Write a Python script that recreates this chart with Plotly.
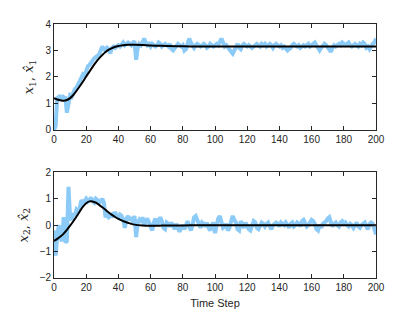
import plotly.graph_objects as go

steps = list(range(201))

x1_meas = [
    0.0, 0.15, 1.2, 1.25, 1.15, 1.3, 1.2, 1.25, 0.65, 1.1,
    1.3, 1.25, 1.45, 1.55, 1.6, 1.75, 1.85, 2.05, 2.1, 2.05,
    2.3, 2.4, 2.45, 2.55, 2.6, 2.7, 2.75, 2.8, 2.85, 3.0,
    3.15, 3.05, 3.0, 3.1, 3.05, 2.9, 3.1, 3.15, 3.1, 3.15,
    3.2, 3.15, 3.25, 3.3, 3.2, 3.25, 3.3, 3.25, 3.2, 3.3,
    3.35, 2.65, 3.1, 3.25, 3.2, 3.3, 3.45, 3.3, 3.2, 3.25,
    3.15, 3.25, 3.2, 3.15, 3.2, 3.3, 3.25, 3.15, 3.2, 3.25,
    3.2, 3.15, 3.25, 3.05, 3.0, 3.1, 3.2, 3.25, 3.2, 3.15,
    3.2, 3.0, 3.05, 3.3, 3.45, 3.3, 3.15, 3.1, 3.2, 3.25,
    3.2, 3.15, 3.2, 3.25, 3.2, 3.1, 3.15, 3.25, 3.2, 3.15,
    3.2, 3.25, 3.2, 3.3, 3.45, 3.3, 3.15, 3.2, 3.1, 3.0,
    2.95, 2.88, 3.0, 3.15, 3.25, 3.1, 3.05, 3.2, 3.25, 3.2,
    3.15, 3.2, 3.15, 3.1, 3.15, 3.2, 3.25, 3.2, 3.15, 3.25,
    3.2, 3.25, 3.15, 3.2, 3.25, 3.2, 3.1, 3.2, 3.25, 3.2,
    3.15, 3.2, 3.1, 3.15, 3.05, 3.0, 3.05, 3.1, 3.2, 3.25,
    3.2, 3.15, 3.2, 3.1, 3.15, 3.2, 3.15, 3.2, 3.25, 3.15,
    3.2, 3.25, 3.3, 3.2, 3.1, 3.0, 3.1, 3.2, 3.25, 3.2,
    3.1, 3.05, 2.95, 3.1, 3.2, 3.15, 3.2, 3.25, 3.2, 3.3,
    3.25, 3.2, 3.25, 3.3, 3.2, 3.15, 3.2, 3.25, 3.2, 3.15,
    3.25, 3.2, 3.3, 3.25, 3.1, 3.15, 3.05, 3.2, 3.25, 3.3,
    3.45,
]

x2_meas = [
    -0.2, -1.15, -0.4, 0.0, -0.5, -0.6, 0.3, -0.65, -0.6, 1.45,
    0.3, 0.2, 0.45, 0.35, 0.6, 0.55, 0.65, 0.95, 0.85, 0.9,
    1.0, 0.9, 0.95, 1.05, 0.9, 0.85, 1.0, 0.95, 0.85, 0.9,
    1.0, 0.85, 0.3, 0.4, 0.3, 0.35, 0.4, 0.3, 0.5, 0.35,
    0.3, 0.4, 0.35, 0.2, -0.1, 0.25, 0.35, 0.2, 0.3, 0.1,
    0.35, -0.45, 0.1, 0.2, 0.1, 0.3, 0.0, 0.15, 0.25, 0.1,
    -0.1, -0.2, 0.1, 0.25, 0.0, 0.2, 0.3, 0.15, -0.1, -0.15,
    0.1, 0.05, -0.05, 0.1, -0.05, -0.15, 0.05, -0.1, -0.25, -0.1,
    0.0, -0.15, 0.05, 0.15, -0.05, -0.2, 0.0, 0.3, 0.35, 0.2,
    0.05, -0.1, 0.1, 0.05, -0.05, 0.1, -0.1, -0.2, 0.0, 0.1,
    -0.3, 0.0, 0.25, 0.35, 0.1, -0.1, -0.05, 0.05, -0.2, -0.1,
    0.15, 0.35, 0.2, 0.1, -0.15, -0.2, 0.15, 0.05, -0.1, 0.1,
    -0.05, -0.15, -0.2, 0.0, 0.15, 0.1, -0.1, -0.15, 0.0, 0.1,
    0.05, -0.05, 0.05, 0.1, -0.05, -0.15, 0.0, 0.05, 0.1, 0.05,
    -0.05, 0.1, 0.05, 0.0, 0.1, -0.05, -0.1, 0.05, 0.1, -0.05,
    0.0, 0.1, 0.05, -0.05, 0.15, 0.2, 0.1, -0.05, 0.0, 0.1,
    0.2, 0.15, 0.05, -0.15, -0.2, 0.0, -0.1, 0.05, 0.1, 0.15,
    0.25, 0.3, 0.1, -0.05, 0.05, 0.1, 0.0, -0.05, 0.1, 0.15,
    0.05, 0.1, 0.0, -0.05, 0.05, 0.0, -0.1, 0.05, 0.1, -0.05,
    -0.1, 0.0, 0.05, 0.1, -0.05, -0.15, 0.05, 0.1, 0.05, -0.1,
    -0.35,
]

est_steps = [0, 2, 4, 6, 8, 10, 12, 14, 16, 18, 20, 22, 24, 26, 28, 30, 32, 34,
             36, 38, 40, 42, 44, 46, 48, 50, 55, 60, 65, 70, 80, 90, 100, 120,
             140, 160, 180, 200]
x1_est = [1.2, 1.15, 1.12, 1.1, 1.13, 1.2, 1.32, 1.48, 1.65, 1.83, 2.02, 2.2,
          2.38, 2.55, 2.7, 2.83, 2.94, 3.03, 3.09, 3.14, 3.17, 3.19, 3.21, 3.22,
          3.22, 3.22, 3.21, 3.19, 3.18, 3.17, 3.16, 3.15, 3.15, 3.15, 3.15,
          3.15, 3.15, 3.15]
x2_est = [-0.6, -0.52, -0.43, -0.32, -0.18, -0.02, 0.15, 0.33, 0.52, 0.7, 0.83,
          0.9, 0.9, 0.85, 0.77, 0.68, 0.58, 0.48, 0.39, 0.31, 0.24, 0.18, 0.13,
          0.09, 0.05, 0.02, -0.01, -0.02, -0.02, -0.01, -0.01, 0, 0, 0, 0, 0,
          0, 0]

x_ticks = list(range(0, 201, 20))
y1_ticks = [0, 1, 2, 3, 4]
y2_ticks = [-2, -1, 0, 1, 2]

BLUE = "#8ccaf7"
AX = "#262626"

fig = go.Figure()
fig.add_trace(go.Scatter(x=steps, y=x1_meas, mode="lines",
                         line=dict(color=BLUE, width=4), xaxis="x", yaxis="y"))
fig.add_trace(go.Scatter(x=est_steps, y=x1_est, mode="lines",
                         line=dict(color="black", width=2, shape="spline"),
                         xaxis="x", yaxis="y"))
fig.add_trace(go.Scatter(x=steps, y=x2_meas, mode="lines",
                         line=dict(color=BLUE, width=4), xaxis="x2", yaxis="y2"))
fig.add_trace(go.Scatter(x=est_steps, y=x2_est, mode="lines",
                         line=dict(color="black", width=2, shape="spline"),
                         xaxis="x2", yaxis="y2"))

axis_common = dict(showline=True, linecolor=AX, linewidth=0.8, mirror="ticks",
                   ticks="inside", ticklen=4, tickcolor=AX, tickwidth=0.8,
                   showgrid=False, zeroline=False, automargin=False,
                   tickfont=dict(family="Liberation Sans, Arial", size=10, color=AX))

fig.update_layout(
    width=407, height=304,
    margin=dict(l=46, r=39, t=16, b=34),
    paper_bgcolor="white", plot_bgcolor="white",
    showlegend=False,
    xaxis=dict(domain=[0, 1], range=[0, 200], tickvals=x_ticks, anchor="y",
               **axis_common),
    yaxis=dict(domain=[0.583, 1.0], range=[0, 4], tickvals=y1_ticks, anchor="x",
               title=dict(text="<i>x</i><sub>1</sub>, <i>x̂</i><sub>1</sub>",
                          font=dict(family="DejaVu Serif", size=13, color=AX),
                          standoff=8),
               **axis_common),
    xaxis2=dict(domain=[0, 1], range=[0, 200], tickvals=x_ticks, anchor="y2",
                title=dict(text="Time Step",
                           font=dict(family="Liberation Sans, Arial", size=11, color=AX),
                           standoff=7),
                **axis_common),
    yaxis2=dict(domain=[0.0, 0.416], range=[-2, 2], tickvals=y2_ticks, anchor="x2",
                title=dict(text="<i>x</i><sub>2</sub>, <i>x̂</i><sub>2</sub>",
                           font=dict(family="DejaVu Serif", size=13, color=AX),
                           standoff=8),
                **axis_common),
)

fig.write_html("out.html")
